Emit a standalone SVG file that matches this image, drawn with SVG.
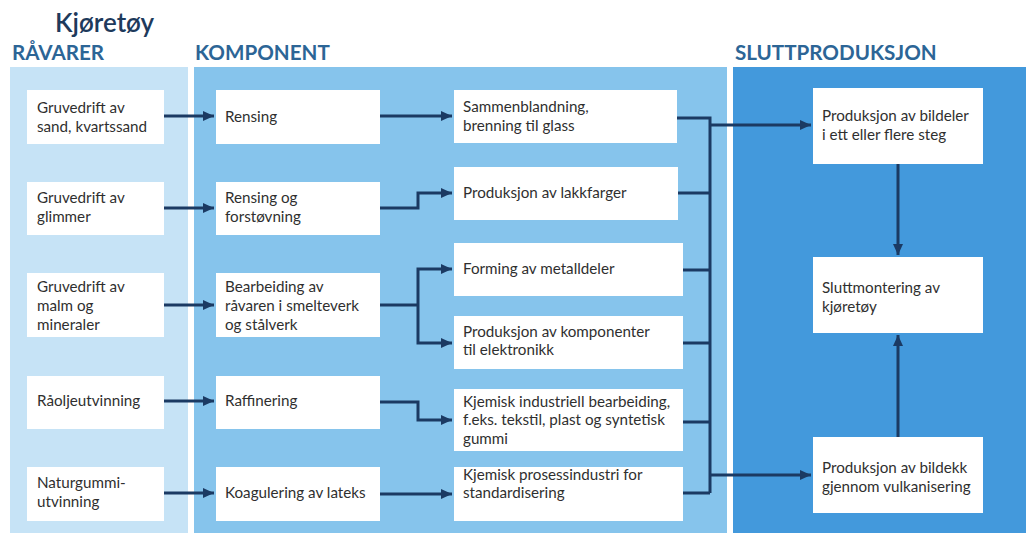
<svg xmlns="http://www.w3.org/2000/svg" width="1026" height="533" viewBox="0 0 1026 533">
<defs>
<marker id="ah" markerUnits="userSpaceOnUse" markerWidth="12" markerHeight="10" refX="11" refY="5" orient="auto">
<path d="M0,0 L11,5 L0,10 z" fill="#1b3a63"/>
</marker>
<style>
.box{fill:#ffffff}
.t{font-family:Lato,"Source Sans Pro","Noto Sans",sans-serif;font-size:15.2px;fill:#2f2f2f}
.h{font-family:Lato,"Noto Sans",sans-serif;font-size:20.6px;font-weight:bold;fill:#2c6596}
.c{fill:none;stroke:#1b3a63;stroke-width:3}
.a{marker-end:url(#ah)}
</style>
</defs>
<rect width="1026" height="533" fill="#ffffff"/>
<rect x="10" y="67" width="178" height="466" fill="#c6e3f6"/>
<rect x="194" y="67" width="533" height="466" fill="#86c4ec"/>
<rect x="733" y="67" width="293" height="466" fill="#4399dc"/>
<text x="55" y="32" style="font-family:Lato,'Noto Sans',sans-serif;font-size:26px;font-weight:600;fill:#1e3a5c">Kjøretøy</text>
<text class="h" x="12" y="60">RÅVARER</text>
<text class="h" x="195" y="60">KOMPONENT</text>
<text class="h" x="735" y="60">SLUTTPRODUKSJON</text>

<g id="connectors">
<path class="c a" d="M164,116 H214"/>
<path class="c a" d="M164,208 H214"/>
<path class="c a" d="M164,305 H214"/>
<path class="c a" d="M164,401 H214"/>
<path class="c a" d="M164,493 H214"/>
<path class="c a" d="M380,116 H452"/>
<path class="c a" d="M380,208 H418 V193 H452"/>
<path class="c" d="M380,305 H418"/>
<path class="c a" d="M418,305 V269 H452"/>
<path class="c a" d="M418,305 V343 H452"/>
<path class="c a" d="M380,402 H418 V420 H452"/>
<path class="c a" d="M380,494 H452"/>
<path class="c" d="M677,118 H710 V493"/>
<path class="c" d="M678,193 H710"/>
<path class="c" d="M683,270 H710"/>
<path class="c" d="M683,343 H710"/>
<path class="c" d="M683,422 H710"/>
<path class="c" d="M683,493 H710"/>
<path class="c a" d="M710,125 H811"/>
<path class="c a" d="M710,475 H811"/>
<path class="c a" d="M898,164 V255"/>
<path class="c a" d="M898,437 V335"/>
</g>

<g id="n_sand"><rect class="box" x="27" y="90" width="137" height="54"/><text class="t" x="37" y="113">Gruvedrift av</text><text class="t" x="37" y="132">sand, kvartssand</text></g>
<g id="n_glimmer"><rect class="box" x="27" y="182" width="137" height="53"/><text class="t" x="37" y="203">Gruvedrift av</text><text class="t" x="37" y="222">glimmer</text></g>
<g id="n_malm"><rect class="box" x="27" y="273" width="137" height="64"/><text class="t" x="37" y="292">Gruvedrift av</text><text class="t" x="37" y="311">malm og</text><text class="t" x="37" y="330">mineraler</text></g>
<g id="n_raolje"><rect class="box" x="27" y="376" width="137" height="53"/><text class="t" x="37" y="406">Råoljeutvinning</text></g>
<g id="n_naturgummi"><rect class="box" x="27" y="467" width="137" height="54"/><text class="t" x="37" y="488">Naturgummi-</text><text class="t" x="37" y="507">utvinning</text></g>

<g id="n_rensing"><rect class="box" x="216" y="90" width="164" height="54"/><text class="t" x="225" y="122">Rensing</text></g>
<g id="n_rensing_og"><rect class="box" x="216" y="182" width="164" height="53"/><text class="t" x="225" y="203">Rensing og</text><text class="t" x="225" y="222">forstøvning</text></g>
<g id="n_bearbeiding"><rect class="box" x="216" y="273" width="164" height="64"/><text class="t" x="225" y="292">Bearbeiding av</text><text class="t" x="225" y="311">råvaren i smelteverk</text><text class="t" x="225" y="330">og stålverk</text></g>
<g id="n_raffinering"><rect class="box" x="216" y="376" width="164" height="53"/><text class="t" x="225" y="406">Raffinering</text></g>
<g id="n_koagulering"><rect class="box" x="216" y="467" width="164" height="54"/><text class="t" x="225" y="498">Koagulering av lateks</text></g>

<g id="n_glass"><rect class="box" x="454" y="90" width="223" height="53"/><text class="t" x="463" y="112">Sammenblandning,</text><text class="t" x="463" y="131">brenning til glass</text></g>
<g id="n_lakk"><rect class="box" x="454" y="167" width="224" height="53"/><text class="t" x="463" y="198">Produksjon av lakkfarger</text></g>
<g id="n_metall"><rect class="box" x="454" y="243" width="229" height="53"/><text class="t" x="463" y="274">Forming av metalldeler</text></g>
<g id="n_elektronikk"><rect class="box" x="454" y="316" width="229" height="53"/><text class="t" x="463" y="337">Produksjon av komponenter</text><text class="t" x="463" y="355">til elektronikk</text></g>
<g id="n_kjemisk_ind"><rect class="box" x="454" y="389" width="229" height="62"/><text class="t" x="463" y="407">Kjemisk industriell bearbeiding,</text><text class="t" x="463" y="425">f.eks. tekstil, plast og syntetisk</text><text class="t" x="463" y="444">gummi</text></g>
<g id="n_kjemisk_pros"><rect class="box" x="454" y="467" width="229" height="54"/><text class="t" x="463" y="480">Kjemisk prosessindustri for</text><text class="t" x="463" y="498">standardisering</text></g>

<g id="n_bildeler"><rect class="box" x="813" y="88" width="170" height="76"/><text class="t" x="822" y="121">Produksjon av bildeler</text><text class="t" x="822" y="140">i ett eller flere steg</text></g>
<g id="n_sluttmontering"><rect class="box" x="813" y="257" width="170" height="76"/><text class="t" x="822" y="293">Sluttmontering av</text><text class="t" x="822" y="312">kjøretøy</text></g>
<g id="n_bildekk"><rect class="box" x="813" y="437" width="170" height="76"/><text class="t" x="822" y="473">Produksjon av bildekk</text><text class="t" x="822" y="492">gjennom vulkanisering</text></g>
</svg>
